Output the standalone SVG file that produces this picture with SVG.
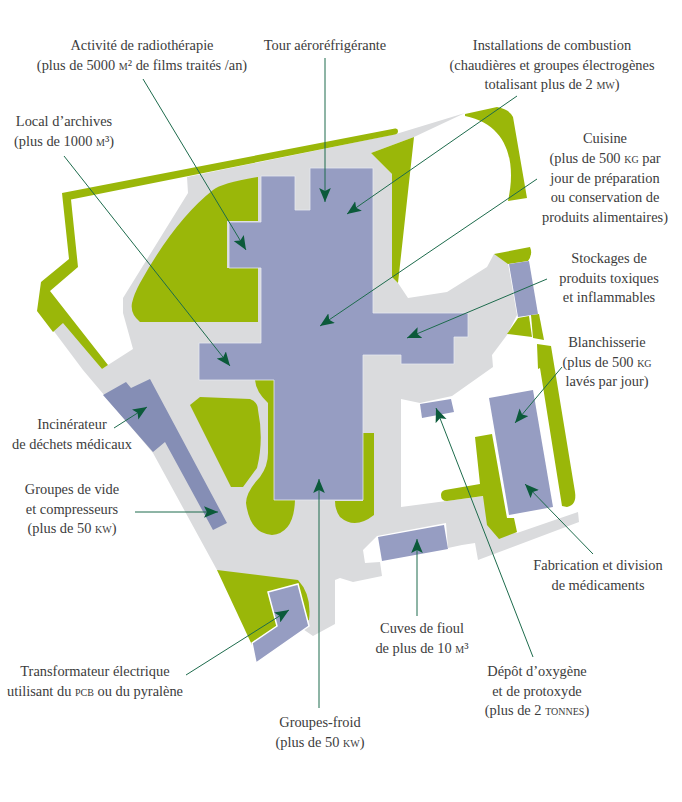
<svg xmlns="http://www.w3.org/2000/svg" width="682" height="802" viewBox="0 0 682 802">
<style>
.g{fill:#9ab709}
.c{fill:#dadbdd}
.b{fill:#969dc2}
.e{stroke:#e6e8f0;stroke-width:.8}
text{font-family:"Liberation Serif","Times New Roman",serif;font-size:14.400px;fill:#3c3c3c;text-anchor:middle}
.s{font-variant:small-caps}
line{stroke:#1d6b4c;stroke-width:1;marker-end:url(#a)}
</style>
<defs>
<marker id="a" markerUnits="userSpaceOnUse" markerWidth="14" markerHeight="12" refX="12" refY="5" orient="auto" viewBox="0 0 12 10"><path d="M0 0L12 5L0 10L2.500 5Z" fill="#0b5a3a"/></marker>
</defs>
<rect width="682" height="802" fill="#fff"/>
<g id="ground">
<path class="c" d="M53,330L63,321L102,369L108,365L133,349L123,313L123,298L188,193L187,177L396,134L465,113L414,137L371,153L392,174L392,277L398,283L408,298L447,292L487,267L494,254L508,263L517,315L507,335L492,355L493,367L452,396L420,403L401,399L401,507L484,496L497,525L517,533L578,512L579,522L478,560L475,543L462,545L448,548L446,523L377,536L363,550L365,563L380,562L382,576L353,582L340,578L335,580L335,624L313,636L217,570L153,453L83,370Z"/>
</g>
<g id="vegetation">
<path class="g" d="M62,193L395,128.500Q398,128 398,131Q398,134 395,134.500L71,199.500L78,267L50,291L108,365L102,369L63,323L53,332L37,311L41,282L69,259Z"/>
<path class="g" d="M258,177V221H227V268H258V322H140Q130,314 132,303Q134,294 140,283Q175,220 213,190Q222,183 258,177Z"/>
<path class="g" d="M371,153L414,137L398,283L392,277V174Z"/>
<path class="g" d="M465,114L497,107Q509,109 513,117L527,198L508,201C516,165 510,125 465,116Z"/>
<path class="g" d="M494,254L530,247Q533,254 528,261L508,264Z"/>
<path class="g" d="M518,318L529,316L532,337L507,334Z"/>
<path class="g" d="M531,315L539,314L544,340L533,338Z"/>
<path class="g" d="M537,344L551,346L575,492Q577,505 567,507L562,506L540,368L538,369Z"/>
<path class="g" d="M475,437L492,434L507,518L514,518L517,532L499,539L487,525L483,496L447,501Q441,501 441,495Q441,491 445,490L480,484Z"/>
<path class="g" d="M190,405L200,397L250,399Q258,402 258,410Q264,440 257,468L243,487H231Z"/>
<path class="g" d="M255,380H274V500H295Q294,533 272,535Q250,534 246,503Q246,492 260,477Q268,466 268,453V403Q256,392 255,380Z"/>
<path class="g" d="M335,501H363V433H374V515Q355,530 340,517Q335,510 335,501Z"/>
<path class="g" d="M217,570L298,580Q312,595 309,620L252,645Z"/>
</g>
<g id="buildings">
<path class="b e" d="M261,176H295V210H310V168H373V313H468V337H454V364H401V355H363V500H274V380H199V343H261V268H229V222H261Z"/>
<path class="b" d="M509,264L529,261L538,314L518,317Z"/>
<path class="b" d="M489,398L533,390L553,507L509,515Z"/>
<path class="b" d="M420,404L451,399L454,412L422,418Z"/>
<path class="b" d="M378,537L444,525L448,549L382,561Z"/>
<path class="b" d="M268,592L298,584L309,626L256,663L252,643L277,626Z" stroke="#fff" stroke-width="1.500"/>
<path d="M103,395L126,382L131,388L150,379L227,523L213,530L165,442L153,452Z" fill="#858eb5"/>
</g>
<g id="connectors">
<line x1="143" y1="79" x2="246" y2="250"/>
<line x1="64" y1="156" x2="230" y2="366"/>
<line x1="325" y1="58" x2="325" y2="202"/>
<line x1="517" y1="96" x2="347" y2="214"/>
<line x1="537" y1="179" x2="320" y2="326"/>
<line x1="547" y1="279" x2="407" y2="338"/>
<line x1="562" y1="367" x2="515" y2="423"/>
<line x1="593" y1="554" x2="525" y2="484"/>
<line x1="533" y1="657" x2="436" y2="408"/>
<line x1="417" y1="616" x2="417" y2="539"/>
<line x1="319" y1="708" x2="319" y2="479"/>
<line x1="186" y1="675" x2="289" y2="610"/>
<line x1="135" y1="512" x2="218" y2="512"/>
<line x1="114" y1="428" x2="147" y2="407"/>
</g>
<g id="labels">
<g id="label-radiotherapie"><text x="142" y="50">Activité de radiothérapie</text><text x="142" y="70">(plus de 5000 <tspan class="s">m</tspan>² de films traités /an)</text></g>
<g id="label-tour"><text x="325" y="50">Tour aéroréfrigérante</text></g>
<g id="label-archives"><text x="64" y="126">Local d’archives</text><text x="64" y="146">(plus de 1000 <tspan class="s">m</tspan>³)</text></g>
<g id="label-combustion"><text x="552" y="50">Installations de combustion</text><text x="552" y="70">(chaudières et groupes électrogènes</text><text x="552" y="89">totalisant plus de 2 <tspan class="s">mw</tspan>)</text></g>
<g id="label-cuisine"><text x="605" y="143">Cuisine</text><text x="605" y="163">(plus de 500 <tspan class="s">kg</tspan> par</text><text x="605" y="183">jour de préparation</text><text x="605" y="202">ou conservation de</text><text x="605" y="222">produits alimentaires)</text></g>
<g id="label-stockages"><text x="609" y="263">Stockages de</text><text x="609" y="283">produits toxiques</text><text x="609" y="302">et inflammables</text></g>
<g id="label-blanchisserie"><text x="607" y="347">Blanchisserie</text><text x="607" y="367">(plus de 500 <tspan class="s">kg</tspan></text><text x="607" y="386">lavés par jour)</text></g>
<g id="label-incinerateur"><text x="72" y="429">Incinérateur</text><text x="72" y="449">de déchets médicaux</text></g>
<g id="label-vide"><text x="72" y="494">Groupes de vide</text><text x="72" y="514">et compresseurs</text><text x="72" y="533">(plus de 50 <tspan class="s">kw</tspan>)</text></g>
<g id="label-fabrication"><text x="598" y="570">Fabrication et division</text><text x="598" y="590">de médicaments</text></g>
<g id="label-cuves"><text x="422" y="633">Cuves de fioul</text><text x="422" y="653">de plus de 10 <tspan class="s">m</tspan>³</text></g>
<g id="label-transformateur"><text x="95" y="676">Transformateur électrique</text><text x="95" y="696">utilisant du <tspan class="s">pcb</tspan> ou du pyralène</text></g>
<g id="label-depot"><text x="537" y="676">Dépôt d’oxygène</text><text x="537" y="696">et de protoxyde</text><text x="537" y="715">(plus de 2 <tspan class="s">tonnes</tspan>)</text></g>
<g id="label-froid"><text x="320" y="727">Groupes-froid</text><text x="320" y="747">(plus de 50 <tspan class="s">kw</tspan>)</text></g>
</g>
</svg>
